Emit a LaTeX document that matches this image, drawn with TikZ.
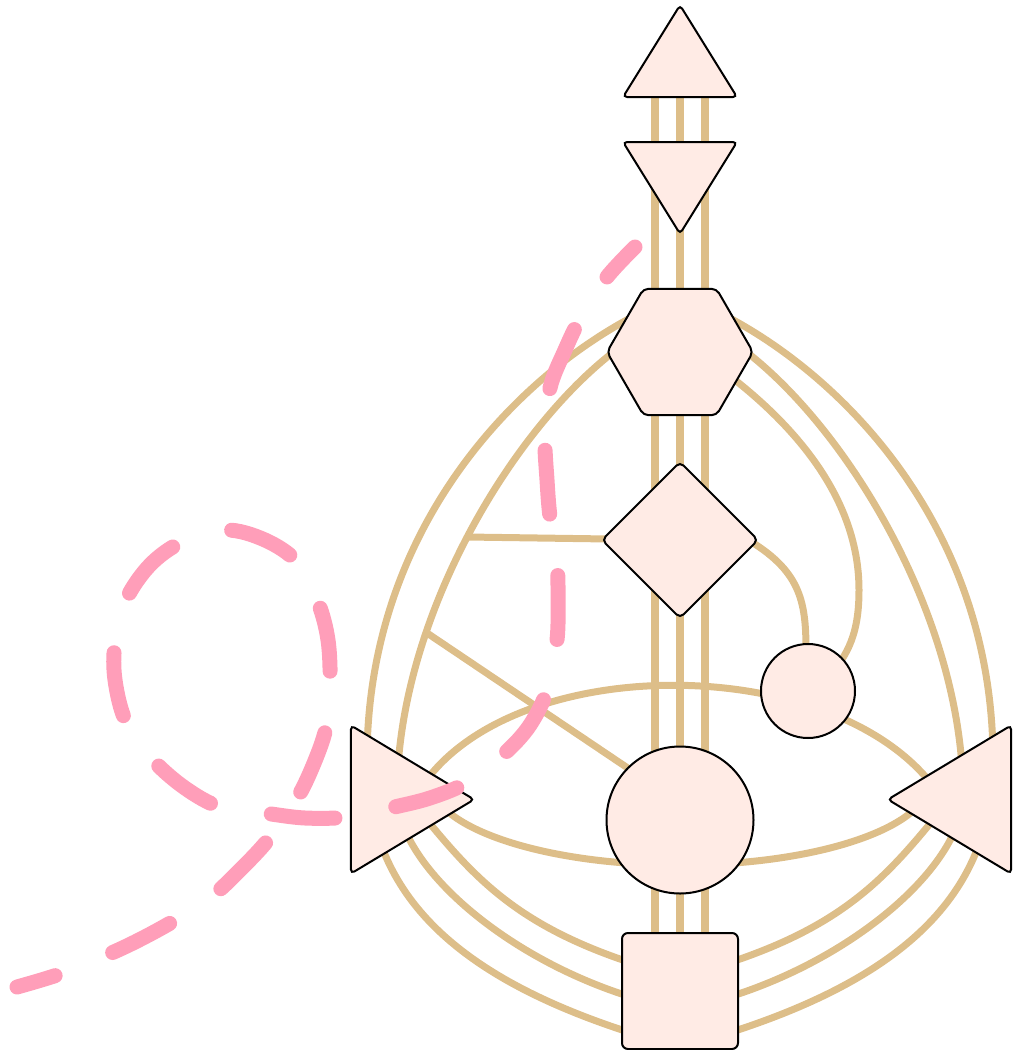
\documentclass[tikz,border=0pt]{standalone}
\usetikzlibrary{shapes.geometric}
\definecolor{chancol}{RGB}{221,190,137}
\definecolor{fillcol}{RGB}{255,235,229}
\definecolor{trailcol}{RGB}{255,158,185}
\begin{document}
\begin{tikzpicture}[x=1pt,y=-1pt,
  centrebox/.style={draw=black, line width=2pt, fill=fillcol, inner sep=0pt, outer sep=0pt},
  tri/.style={centrebox, regular polygon, regular polygon sides=3, rounded corners=4pt},
  chanline/.style={draw=chancol, line width=7pt},
  vchan/.style={draw=chancol, line width=8pt},
  trail/.style={draw=trailcol, line width=15pt, line cap=round, dash pattern=on 64pt off 62pt, dash phase=23pt}]
\useasboundingbox (0,0) rectangle (1013,1050);

% channel end points
\coordinate (tL1) at (640,313);
\coordinate (tL2) at (630,340);
\coordinate (tR1) at (720,313);
\coordinate (tR2) at (730,340);
\coordinate (tH) at (722,370);
\coordinate (rL1) at (641,1036);
\coordinate (rL2) at (641,1000);
\coordinate (rL3) at (641,966);
\coordinate (rR1) at (719,1036);
\coordinate (rR2) at (719,1000);
\coordinate (rR3) at (719,966);
\coordinate (sL3) at (418,809);
\coordinate (sR3) at (942,809);
\coordinate (spA) at (425,782);
\coordinate (soA) at (930,782);
\coordinate (spB) at (430,780);
\coordinate (soB) at (930,780);
\coordinate (gL) at (467,537);
\coordinate (dL) at (427,633);
\coordinate (sacIn) at (650,783);
\coordinate (gR) at (745,538);
\coordinate (hT) at (806,650);
\coordinate (hIn) at (825,680);
\coordinate (trailStart) at (635,247);
\coordinate (trailEnd) at (17,987);

% centres (placed first as names; drawn later on top)
\path (680,66.4) coordinate (headpos) (680,172.6) coordinate (ajnapos)
      (680,352) coordinate (throatpos) (680,540) coordinate (gpos)
      (808,691) coordinate (heartpos) (680,820) coordinate (sacralpos)
      (680,991) coordinate (rootpos) (392,799.5) coordinate (spleenpos)
      (970,799.5) coordinate (sppos);

% vertical channels
\foreach \dx in {-25pt,0pt,25pt}
  \draw[vchan] ([xshift=\dx]headpos) -- ([xshift=\dx]rootpos);

% left channels
\draw[chanline] (tL1) .. controls (515,376) and (367,530) .. (367,760)
                      .. controls (367,890) and (450,977) .. (rL1);
\draw[chanline] (tL2) .. controls (519,415) and (397,615) .. (397,795)
                      .. controls (397,865) and (507,961.5) .. (rL2);
\draw[chanline] (sL3) .. controls (474,878) and (517,927) .. (rL3);
% right channels
\draw[chanline] (tR1) .. controls (845,376) and (993,530) .. (993,760)
                      .. controls (993,890) and (910,977) .. (rR1);
\draw[chanline] (tR2) .. controls (841,415) and (963,615) .. (963,795)
                      .. controls (963,865) and (853,961.5) .. (rR2);
\draw[chanline] (sR3) .. controls (886,878) and (843,927) .. (rR3);
% throat - heart, G - heart
\draw[chanline] (tH) .. controls (797,426) and (859,500) .. (859,590)
                     .. controls (859,630) and (850,655) .. (hIn);
\draw[chanline] (gR) .. controls (800,570) and (806,600) .. (hT);
% G - spleen line, diagonal
\draw[chanline] (gL) -- (gpos);
\draw[chanline] (dL) -- (sacIn);
% upper and lower arcs
\draw[chanline] (spA) .. controls (519,653) and (825,653) .. (soA);
\draw[chanline] (spB) .. controls (430,827) and (542,865) .. (680,865)
                      .. controls (818,865) and (930,827) .. (soB);

% centres
\node[tri, minimum size=131.6pt, yscale=0.93] (head) at (headpos) {};
\node[tri, shape border rotate=180, minimum size=131.6pt, yscale=0.93] (ajna) at (ajnapos) {};
\node[centrebox, regular polygon, regular polygon sides=6, minimum size=146pt, rounded corners=5pt] (throat) at (throatpos) {};
\node[centrebox, diamond, minimum width=156pt, minimum height=156pt, rounded corners=5pt] (g) at (gpos) {};
\node[centrebox, circle, minimum size=94pt] (heart) at (heartpos) {};
\node[centrebox, circle, minimum size=147pt] (sacral) at (sacralpos) {};
\node[centrebox, rectangle, minimum width=116pt, minimum height=116pt, rounded corners=6pt] (root) at (rootpos) {};
\node[tri, shape border rotate=-90, minimum size=171pt, xscale=0.96] (spleen) at (spleenpos) {};
\node[tri, shape border rotate=90, minimum size=171pt, xscale=0.96] (sp) at (sppos) {};

% dashed trail
\draw[trail] plot[smooth, tension=0.55] coordinates {(trailStart) (607,277) (582,315) (565,350) (550,388)
  (545,437) (547,480) (550,517) (557,563) (558,600) (557,640) (548,688) (530,725) (505,753)
  (468,782) (430,798) (390,808) (349,817) (305,818) (264,813) (220,807) (185,788) (153,760)
  (126,722) (115,680) (115,643) (126,600) (150,565) (182,542) (226,530) (265,540) (297,562)
  (318,602) (328,640) (330,683) (326,728) (312,768) (295,802) (268,840) (240,870) (211,897)
  (172,922) (135,942) (100,958) (57,975) (trailEnd)};
\end{tikzpicture}
\end{document}
